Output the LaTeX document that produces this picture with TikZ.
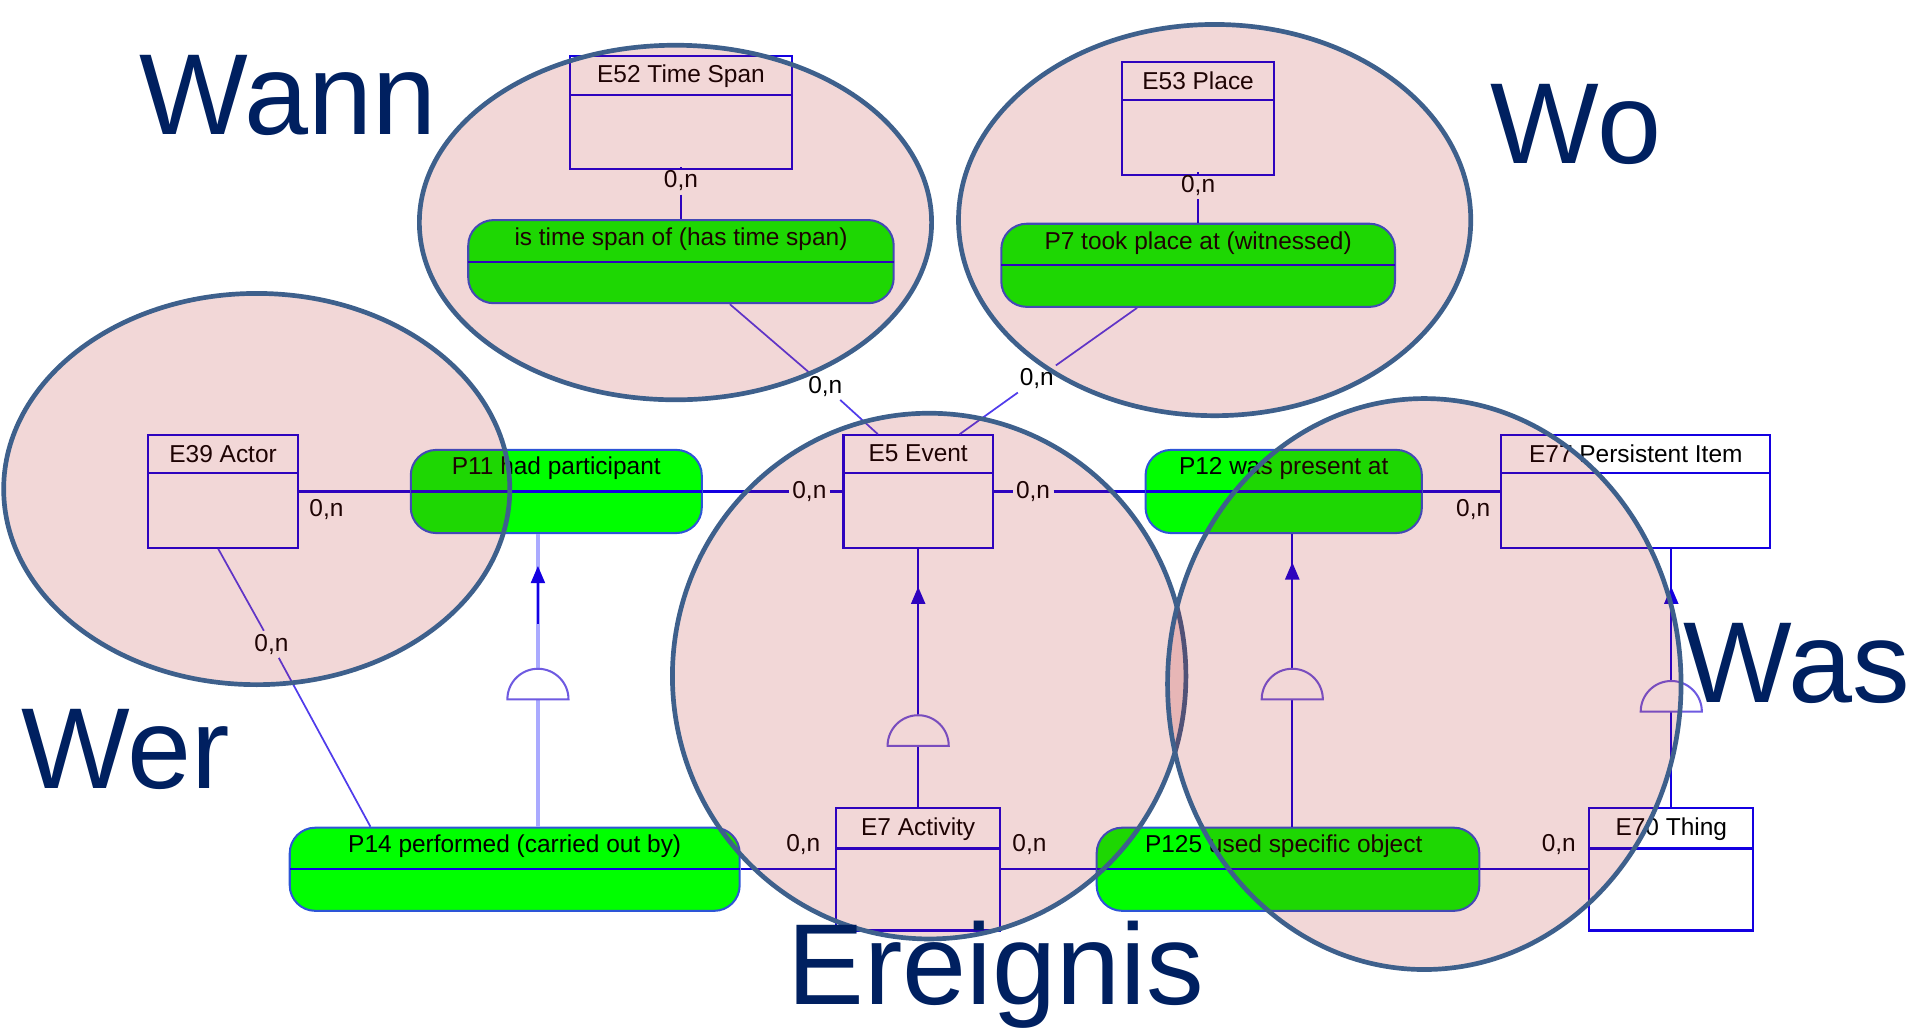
\documentclass[tikz,border=0pt]{standalone}
\usepackage{fontspec}
\setmainfont{Liberation Sans}
\usetikzlibrary{fit,calc}
\definecolor{entblue}{RGB}{20,0,225}
\definecolor{pillgreen}{RGB}{0,255,0}
\definecolor{pillborder}{RGB}{45,85,215}
\definecolor{zonefill}{RGB}{178,18,18}
\definecolor{zoneline}{RGB}{62,96,140}
\definecolor{navy}{RGB}{0,32,96}
\definecolor{domecol}{RGB}{110,90,225}
\definecolor{isalight}{RGB}{170,170,255}
\definecolor{diagcol}{RGB}{80,60,235}
\begin{document}
\begin{tikzpicture}[x=0.6pt,y=-0.6pt,
  ent/.style={draw=entblue, line width=1.1pt, fill=white, inner sep=0pt},
  pill/.style={draw=pillborder, line width=1pt, fill=pillgreen, rounded corners=12.5pt, inner sep=0pt},
  divider/.style={draw=entblue, line width=1pt},
  ttl/.style={font=\fontsize{12}{14}\selectfont, text=black, inner sep=0pt},
  card/.style={font=\fontsize{12}{14}\selectfont, text=black, inner sep=1.5pt},
  conn/.style={draw=entblue, line width=1.05pt},
  diag/.style={draw=diagcol, line width=0.85pt},
  isa/.style={draw=entblue, line width=1.05pt},
  isal/.style={draw=isalight, line width=1.6pt},
  dome/.style={draw=domecol, line width=1pt, fill=white},
  tip/.style={fill=entblue},
  zone/.style={draw=zoneline, line width=2.3pt, fill=zonefill, fill opacity=0.17},
  big/.style={font=\fontsize{56.5}{60}\selectfont, text=navy, inner sep=0pt, anchor=base west}]
\useasboundingbox (0,0) rectangle (1568,842);

% ---------- entities ----------
\node[ent, fit={(466,46) (648,138)}] (e52) {};
\draw[divider] (466,78) -- (648,78);
\node[ttl] (e52t) at (557,62) {E52 Time Span};

\node[ent, fit={(918,51) (1042,143)}] (e53) {};
\draw[divider] (918,82) -- (1042,82);
\node[ttl] (e53t) at (980,66) {E53 Place};

\node[ent, fit={(121,356) (244,448)}] (e39) {};
\draw[divider] (121,387) -- (244,387);
\node[ttl] (e39t) at (182.5,371) {E39 Actor};

\node[ent, fit={(690,356) (812,448)}] (e5) {};
\draw[divider] (690,387) -- (812,387);
\node[ttl] (e5t) at (751,371) {E5 Event};

\node[ent, fit={(1228,356) (1448,448)}] (e77) {};
\draw[divider] (1228,387) -- (1448,387);
\node[ttl] (e77t) at (1338,371) {E77 Persistent Item};

\node[ent, fit={(684,661) (818,761)}] (e7) {};
\draw[divider] (684,694) -- (818,694);
\node[ttl] (e7t) at (751,678) {E7 Activity};

\node[ent, fit={(1300,661) (1434,761)}] (e70) {};
\draw[divider] (1300,694) -- (1434,694);
\node[ttl] (e70t) at (1367,678) {E70 Thing};

% ---------- properties ----------
\node[pill, fit={(383,180) (731,248)}] (p4) {};
\draw[divider] (383,214) -- (731,214);
\node[ttl] (p4t) at (557,196) {is time span of (has time span)};

\node[pill, fit={(819,183) (1141,251)}] (p7) {};
\draw[divider] (819,217) -- (1141,217);
\node[ttl] (p7t) at (980,199) {P7 took place at (witnessed)};

\node[pill, fit={(336,368) (574,436)}] (p11) {};
\draw[divider] (336,402) -- (574,402);
\node[ttl] (p11t) at (455,383) {P11 had participant};

\node[pill, fit={(937,368) (1163,436)}] (p12) {};
\draw[divider] (937,402) -- (1163,402);
\node[ttl] (p12t) at (1050,383) {P12 was present at};

\node[pill, fit={(237,677) (605,745)}] (p14) {};
\draw[divider] (237,711) -- (605,711);
\node[ttl] (p14t) at (421,692) {P14 performed (carried out by)};

\node[pill, fit={(897,677) (1210,745)}] (p125) {};
\draw[divider] (897,711) -- (1210,711);
\node[ttl] (p125t) at (1050,692) {P125 used specific object};

% ---------- cardinalities ----------
\node[card] (c1) at (557,148) {0,n};
\node[card] (c2) at (980,152) {0,n};
\node[card] (c3) at (675,316) {0,n};
\node[card] (c4) at (848,310) {0,n};
\node[card] (c5) at (267,417) {0,n};
\node[card] (c6) at (662,402) {0,n};
\node[card] (c7) at (845,402) {0,n};
\node[card] (c8) at (1205,417) {0,n};
\node[card] (c9) at (222,527) {0,n};
\node[card] (c10) at (657,691) {0,n};
\node[card] (c11) at (842,691) {0,n};
\node[card] (c12) at (1275,691) {0,n};

% ---------- connectors ----------
\draw[conn] (e52) -- (c1) -- (p4);
\draw[conn] (e53) -- (c2) -- (p7);
\draw[diag] ($(p4.south)+(40,0)$) -- (c3) -- ($(e5.north)+(-33,0)$);
\draw[diag] ($(p7.south)+(-50,0)$) -- (c4) -- ($(e5.north)+(34,0)$);
\draw[conn] (e39) -- (p11);
\draw[conn] (p11) -- (c6) -- (e5);
\draw[conn] (e5) -- (c7) -- (p12);
\draw[conn] (p12) -- (e77);
\draw[diag] ($(e39.south)+(-4,0)$) -- (c9) -- ($(p14.north)+(-118,0)$);
\draw[conn] (p14) -- (e7);
\draw[conn] (e7) -- (p125);
\draw[conn] (p125) -- (e70);

% ---------- is-a links ----------
\coordinate (i1) at (440,0);
\coordinate (i3) at (1057,0);
\coordinate (i4) at (1367,0);

\draw[isal] (i1 |- p14.north) -- (i1 |- p11.south);
\draw[isa] (440,510) -- (440,470);
\fill[tip] (440,463) -- (434,477) -- (446,477) -- cycle;
\draw[dome] (415,572) .. controls (415,558.2) and (426.2,547) .. (440,547) .. controls (453.8,547) and (465,558.2) .. (465,572) -- cycle;

\draw[isa] (e7) -- (e5);
\fill[tip] (751,480) -- (745,494) -- (757,494) -- cycle;
\draw[dome] (726,610) .. controls (726,596.2) and (737.2,585) .. (751,585) .. controls (764.8,585) and (776,596.2) .. (776,610) -- cycle;

\draw[isa] (i3 |- p125.north) -- (i3 |- p12.south);
\fill[tip] (1057,460) -- (1051,474) -- (1063,474) -- cycle;
\draw[dome] (1032,572) .. controls (1032,558.2) and (1043.2,547) .. (1057,547) .. controls (1070.8,547) and (1082,558.2) .. (1082,572) -- cycle;

\draw[isa] (i4 |- e70.north) -- (i4 |- e77.south);
\fill[tip] (1367,480) -- (1361,494) -- (1373,494) -- cycle;
\draw[dome] (1342,582) .. controls (1342,568.2) and (1353.2,557) .. (1367,557) .. controls (1380.8,557) and (1392,568.2) .. (1392,582) -- cycle;

% ---------- zones ----------
\draw[zone] (552.5,182) ellipse [x radius=209.5, y radius=145];
\draw[zone] (993.5,180) ellipse [x radius=209.5, y radius=160];
\draw[zone] (210,400) ellipse [x radius=207, y radius=160];
\draw[zone] (760,553) ellipse [x radius=210, y radius=215];
\draw[zone] (1165,559.5) ellipse [x radius=210, y radius=233.5];

% ---------- headings ----------
\node[big] (wann) at (114,110) {Wann};
\node[big] (wo) at (1219,134) {Wo};
\node[big] (wer) at (17,645) {Wer};
\node[big] (was) at (1377,575) {Was};
\node[big] (ereignis) at (644,822) {Ereignis};
\end{tikzpicture}
\end{document}
